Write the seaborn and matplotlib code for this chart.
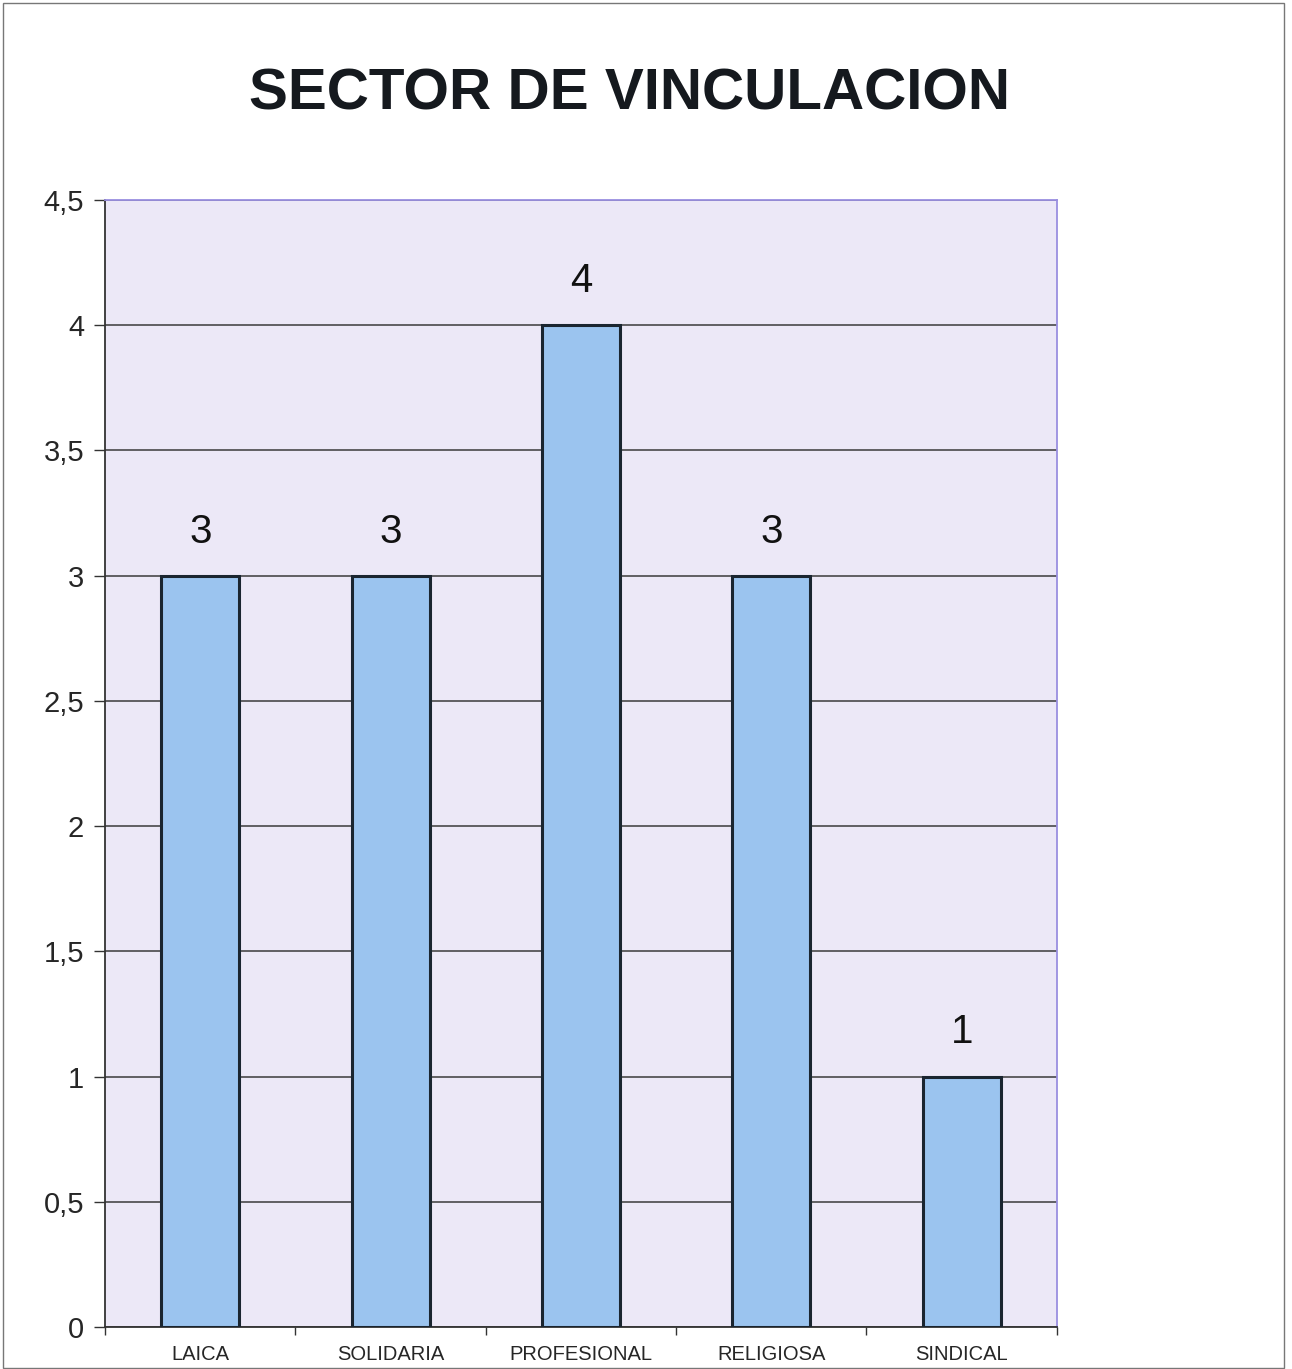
import numpy as np
import pandas as pd
import matplotlib
matplotlib.use("Agg")
import matplotlib.pyplot as plt
from matplotlib.ticker import FuncFormatter, FixedLocator
import seaborn as sns

# datos
sectores = ['LAICA', 'SOLIDARIA', 'PROFESIONAL', 'RELIGIOSA', 'SINDICAL']
valores = [3, 3, 4, 3, 1]
y_ticks = [0, 0.5, 1, 1.5, 2, 2.5, 3, 3.5, 4, 4.5]

df = pd.DataFrame({'sector': sectores, 'valor': valores})

sns.set_style('white')
plt.rcParams['font.family'] = ['Liberation Sans', 'DejaVu Sans']

fig = plt.figure(figsize=(12.92, 13.69), dpi=100)
ax = fig.add_axes([0.0813, 0.0307, 0.7367, 0.8233])
ax.set_facecolor('#ece8f7')

sns.barplot(data=df, x='sector', y='valor', ax=ax, color='#9bc4ef',
            width=0.41, edgecolor='#1a2530', linewidth=2.2, saturation=1,
            zorder=3)

ax.set_ylim(0, 4.5)
ax.set_xlim(-0.5, len(sectores) - 0.5)
ax.yaxis.set_major_locator(FixedLocator(y_ticks))
ax.yaxis.set_major_formatter(FuncFormatter(
    lambda v, p: ('%g' % v).replace('.', ',')))
ax.grid(axis='y', color='#3a3a3a', linewidth=1.1, zorder=1)
ax.set_axisbelow(True)

# etiquetas de valores
for i, v in enumerate(valores):
    ax.text(i, v + 0.1, str(v), ha='center', va='bottom', fontsize=29,
            color='#111111')

ax.set_xlabel('')
ax.set_ylabel('')
ax.tick_params(axis='y', labelsize=21, length=8, width=1, color='#333333',
               direction='out', pad=7, left=True)
ax.tick_params(axis='x', which='major', labelsize=14.5, length=0, pad=13)
ax.set_xticks(np.arange(-0.5, len(sectores), 1), minor=True)
ax.tick_params(axis='x', which='minor', length=6, width=1, color='#333333',
               direction='out', bottom=True)

for s in ['left', 'bottom']:
    ax.spines[s].set_color('#333333')
    ax.spines[s].set_linewidth(1.3)
for s in ['top', 'right']:
    ax.spines[s].set_color('#9a8fe0')
    ax.spines[s].set_linewidth(1.3)

fig.text(0.487, 0.9355, 'SECTOR DE VINCULACION', ha='center',
         va='center_baseline', fontsize=42, fontweight='bold',
         color='#15191e')

# borde exterior
fig.patches.append(plt.Rectangle((0.002, 0.001), 0.992, 0.997,
                                 transform=fig.transFigure, fill=False,
                                 edgecolor='#777777', linewidth=1))

fig.savefig('out.png', dpi=100)
